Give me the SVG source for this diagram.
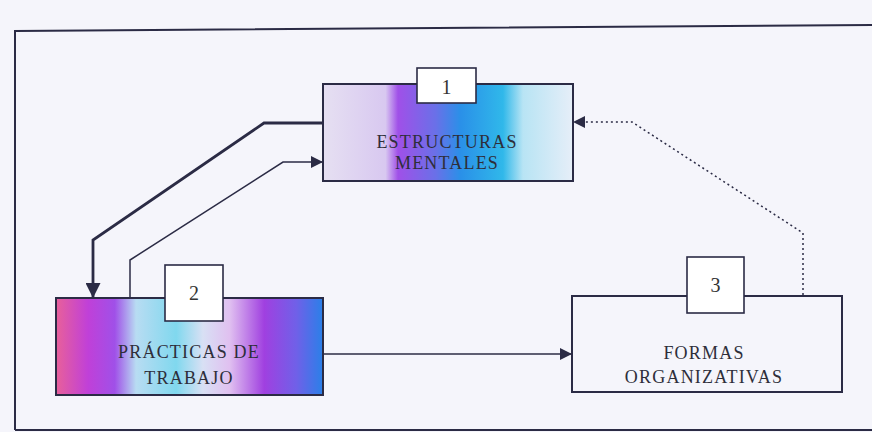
<svg xmlns="http://www.w3.org/2000/svg" width="872" height="432" viewBox="0 0 872 432">
<defs>
<style>
.box{stroke:#2b2b45;stroke-width:2}
.tag{fill:#ffffff;stroke:#2b2b45;stroke-width:1.6}
.num{font-family:"Liberation Serif",serif;font-size:20px;fill:#333;text-anchor:middle}
.lbl{font-family:"Liberation Serif",serif;font-size:18px;fill:#2e2e3a;text-anchor:middle;letter-spacing:1.2px}
.con{fill:none;stroke:#2b2b45}
</style>
<linearGradient id="g1" x1="0" y1="0" x2="1" y2="0">
<stop offset="0" stop-color="#e6e0f2"/>
<stop offset="0.25" stop-color="#d8c8f0"/>
<stop offset="0.3" stop-color="#a050e8"/>
<stop offset="0.45" stop-color="#6a70e8"/>
<stop offset="0.55" stop-color="#2a90e8"/>
<stop offset="0.72" stop-color="#30b8ea"/>
<stop offset="0.8" stop-color="#b8e4f4"/>
<stop offset="1" stop-color="#e6eef8"/>
</linearGradient>
<linearGradient id="g2" x1="0" y1="0" x2="1" y2="0">
<stop offset="0" stop-color="#e8609a"/>
<stop offset="0.12" stop-color="#c040d8"/>
<stop offset="0.22" stop-color="#a050e8"/>
<stop offset="0.3" stop-color="#b8dcf2"/>
<stop offset="0.45" stop-color="#80d8ee"/>
<stop offset="0.55" stop-color="#d8e0f4"/>
<stop offset="0.65" stop-color="#e0c0f0"/>
<stop offset="0.78" stop-color="#a040e0"/>
<stop offset="0.9" stop-color="#7060e8"/>
<stop offset="1" stop-color="#2a80e8"/>
</linearGradient>
<marker id="ah" viewBox="0 0 10 10" refX="10" refY="5" markerWidth="12" markerHeight="12" markerUnits="userSpaceOnUse" orient="auto">
<path d="M0,0 L10,5 L0,10 Z" fill="#2b2b45"/>
</marker>
<marker id="ahb" viewBox="0 0 10 10" refX="10" refY="5" markerWidth="15" markerHeight="15" markerUnits="userSpaceOnUse" orient="auto">
<path d="M0,0 L10,5 L0,10 Z" fill="#2b2b45"/>
</marker>
</defs>
<rect width="872" height="432" fill="#f5f5fb"/>
<g id="frame" fill="none" stroke="#2b2b45" stroke-width="2">
<path d="M15,430 L15,31 L872,25"/>
<path d="M15,430 L872,430"/>
</g>
<g id="connectors">
<path class="con" stroke-width="2.8" d="M323,123 L264,123 L93,240 L93,298" marker-end="url(#ahb)"/>
<path class="con" stroke-width="1.5" d="M130,298 L130,260 L283,162 L323,162" marker-end="url(#ah)"/>
<path class="con" stroke-width="1.5" stroke-dasharray="2,3" d="M803,295 L803,233 L632,122 L573,122" marker-end="url(#ah)"/>
<path class="con" stroke-width="1.6" d="M323,354 L572,354" marker-end="url(#ah)"/>
</g>
<g id="node1">
<rect class="box" x="323" y="84" width="250" height="97" fill="url(#g1)"/>
<rect class="tag" x="417" y="68" width="59" height="35"/>
<text class="num" x="446.5" y="94">1</text>
<text class="lbl" x="447" y="148">ESTRUCTURAS</text>
<text class="lbl" x="447" y="169">MENTALES</text>
</g>
<g id="node2">
<rect class="box" x="56" y="298" width="267" height="97" fill="url(#g2)"/>
<rect class="tag" x="165" y="265" width="58" height="56"/>
<text class="num" x="194" y="300">2</text>
<text class="lbl" x="189" y="358">PRÁCTICAS DE</text>
<text class="lbl" x="189" y="384">TRABAJO</text>
</g>
<g id="node3">
<rect class="box" x="572" y="296" width="270" height="96" fill="#f5f5fb"/>
<rect class="tag" x="687" y="257" width="57" height="56"/>
<text class="num" x="715.5" y="292">3</text>
<text class="lbl" x="704" y="359">FORMAS</text>
<text class="lbl" x="704" y="383">ORGANIZATIVAS</text>
</g>
</svg>
